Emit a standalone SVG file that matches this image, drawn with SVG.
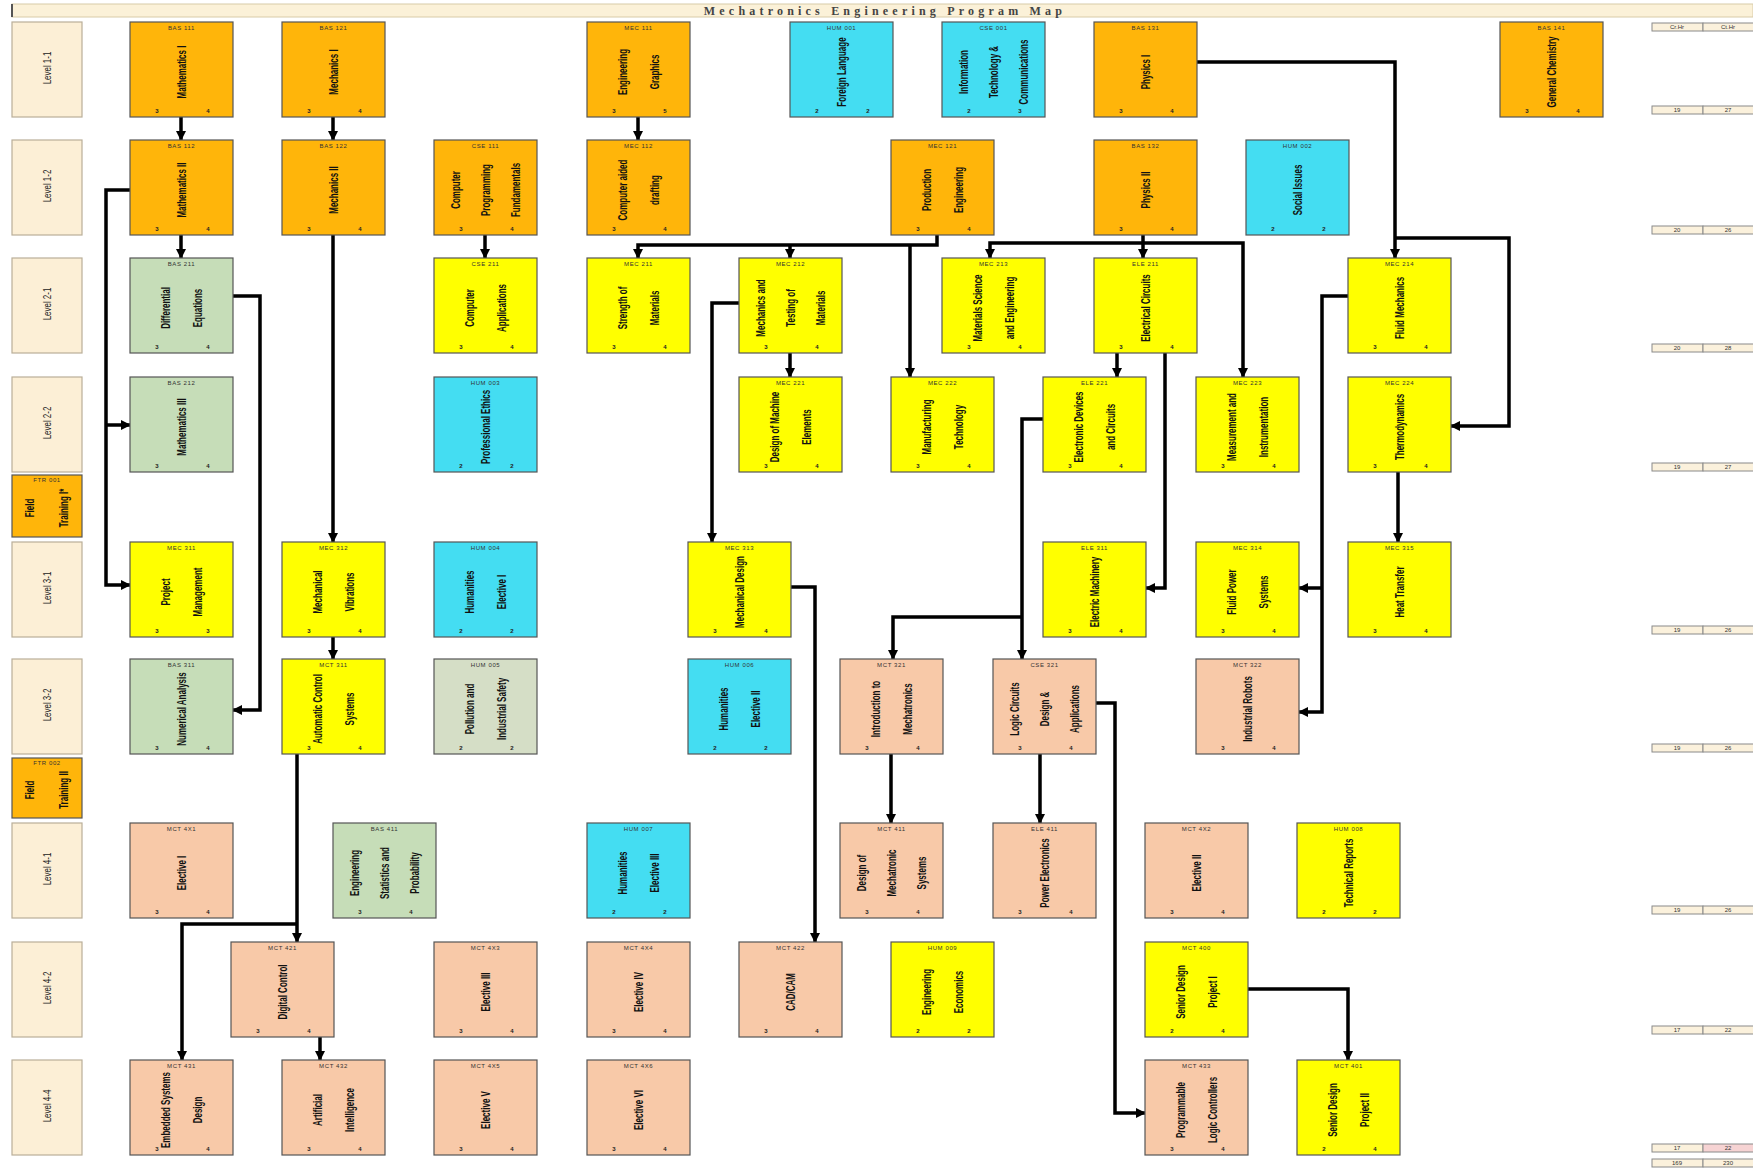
<svg xmlns="http://www.w3.org/2000/svg" width="1753" height="1172" viewBox="0 0 1753 1172">
<defs>
<marker id="ah" markerUnits="userSpaceOnUse" markerWidth="10" markerHeight="10" viewBox="0 0 10 10" refX="9" refY="5" orient="auto"><path d="M0,0 L10,5 L0,10 z" fill="#000"/></marker>
</defs>
<style>
.nd rect{stroke:#555;stroke-width:1.2}
.or rect{fill:#FFB50A}.ye rect{fill:#FFFF00}.cy rect{fill:#44DDF2}.gr rect{fill:#C6DDB8}.g2 rect{fill:#D5DEC6}.sa rect{fill:#F8C9A8}
.lv rect{fill:#FCEFD6;stroke:#B9AE98;stroke-width:1.2}
.lb{font-family:"Liberation Sans",Arial,sans-serif;font-weight:bold;font-size:12.5px;fill:#111;text-anchor:middle}
.ll{font-family:"Liberation Sans",Arial,sans-serif;font-size:11px;fill:#222;text-anchor:middle}
.cd{font-family:"Liberation Sans",Arial,sans-serif;font-size:6px;fill:#333;text-anchor:middle;letter-spacing:0.6px}
.mk{font-family:"Liberation Sans",Arial,sans-serif;font-size:6px;font-weight:bold;fill:#222;text-anchor:middle}
.tb rect{fill:#FBF1DC;stroke:#8a8a8a;stroke-width:1}
.tt{font-family:"Liberation Sans",Arial,sans-serif;font-size:6px;fill:#333;text-anchor:middle}
#conn path{fill:none;stroke:#000;stroke-width:3.5;marker-end:url(#ah)}
</style>
<rect width="1753" height="1172" fill="#fff"/>
<g id="title">
<rect x="12" y="4" width="1741" height="13" fill="#FBF1D8" stroke="#D8CBA8"/>
<line x1="12" y1="4" x2="12" y2="17" stroke="#555" stroke-width="2"/>
<text x="885" y="15" font-family="Liberation Serif, serif" font-weight="bold" font-size="12" letter-spacing="4.2" text-anchor="middle" fill="#444">Mechatronics Engineering  Program Map</text>
</g>
<g id="levels">
<g id="lv1" class="lv"><rect x="12" y="22" width="70" height="95"/><text class="ll" transform="translate(47,68) rotate(-90) scale(0.72,1)" dy="4">Level 1-1</text></g>
<g id="lv2" class="lv"><rect x="12" y="140" width="70" height="95"/><text class="ll" transform="translate(47,186) rotate(-90) scale(0.72,1)" dy="4">Level 1-2</text></g>
<g id="lv3" class="lv"><rect x="12" y="258" width="70" height="95"/><text class="ll" transform="translate(47,304) rotate(-90) scale(0.72,1)" dy="4">Level 2-1</text></g>
<g id="lv4" class="lv"><rect x="12" y="377" width="70" height="95"/><text class="ll" transform="translate(47,423) rotate(-90) scale(0.72,1)" dy="4">Level 2-2</text></g>
<g id="ft1" class="nd or"><rect x="12" y="475" width="70" height="62"/><text class="cd" x="47" y="482">FTR 001</text><text class="lb" transform="translate(47,508) rotate(-90) scale(0.64,1)"><tspan x="0" dy="-13">Field</tspan><tspan x="0" dy="34">Training I*</tspan></text></g>
<g id="lv5" class="lv"><rect x="12" y="542" width="70" height="95"/><text class="ll" transform="translate(47,588) rotate(-90) scale(0.72,1)" dy="4">Level 3-1</text></g>
<g id="lv6" class="lv"><rect x="12" y="659" width="70" height="95"/><text class="ll" transform="translate(47,705) rotate(-90) scale(0.72,1)" dy="4">Level 3-2</text></g>
<g id="ft2" class="nd or"><rect x="12" y="758" width="70" height="60"/><text class="cd" x="47" y="765">FTR 002</text><text class="lb" transform="translate(47,790) rotate(-90) scale(0.64,1)"><tspan x="0" dy="-13">Field</tspan><tspan x="0" dy="34">Training II</tspan></text></g>
<g id="lv7" class="lv"><rect x="12" y="823" width="70" height="95"/><text class="ll" transform="translate(47,869) rotate(-90) scale(0.72,1)" dy="4">Level 4-1</text></g>
<g id="lv8" class="lv"><rect x="12" y="942" width="70" height="95"/><text class="ll" transform="translate(47,988) rotate(-90) scale(0.72,1)" dy="4">Level 4-2</text></g>
<g id="lv9" class="lv"><rect x="12" y="1060" width="70" height="95"/><text class="ll" transform="translate(47,1106) rotate(-90) scale(0.72,1)" dy="4">Level 4-4</text></g>
</g>
<g id="conn">
<path d="M181,117 V140"/>
<path d="M333,117 V140"/>
<path d="M638,117 V140"/>
<path d="M181,235 V258"/>
<path d="M485,235 V258"/>
<path d="M333,235 V542"/>
<path d="M130,190 H106 V585 H130"/>
<path d="M106,425 H130"/>
<path d="M233,296 H260 V710 H233"/>
<path d="M937,235 V245 H638 V258"/>
<path d="M790,245 V258"/>
<path d="M910,245 V377"/>
<path d="M1143,235 V258"/>
<path d="M1143,243 H990 V258"/>
<path d="M1143,243 H1243 V377"/>
<path d="M1117,353 V377"/>
<path d="M1165,353 V588 H1146"/>
<path d="M1197,62 H1395 V258"/>
<path d="M1395,238 H1509 V426 H1451"/>
<path d="M1398,472 V542"/>
<path d="M1348,296 H1322 V712 H1299"/>
<path d="M1322,588 H1299"/>
<path d="M739,303 H712 V542"/>
<path d="M790,353 V377"/>
<path d="M791,587 H815 V942"/>
<path d="M1043,419 H1022 V659"/>
<path d="M1022,617 H893 V659"/>
<path d="M891,754 V823"/>
<path d="M1040,754 V823"/>
<path d="M1096,703 H1115 V1113 H1145"/>
<path d="M297,754 V942"/>
<path d="M297,924 H182 V1060"/>
<path d="M320,1037 V1060"/>
<path d="M1248,989 H1348 V1060"/>
<path d="M333,637 V659"/>
</g>
<g id="nodes">
<g id="n01" class="nd or"><rect x="130" y="22" width="103" height="95"/><text class="cd" x="181.5" y="30">BAS 111</text><text class="lb" transform="translate(181.5,72) rotate(-90) scale(0.64,1)"><tspan x="0" dy="4.5">Mathematics I</tspan></text><text class="mk" x="157" y="113">3</text><text class="mk" x="208" y="113">4</text></g>
<g id="n02" class="nd or"><rect x="282" y="22" width="103" height="95"/><text class="cd" x="333.5" y="30">BAS 121</text><text class="lb" transform="translate(333.5,72) rotate(-90) scale(0.64,1)"><tspan x="0" dy="4.5">Mechanics I</tspan></text><text class="mk" x="309" y="113">3</text><text class="mk" x="360" y="113">4</text></g>
<g id="n03" class="nd or"><rect x="587" y="22" width="103" height="95"/><text class="cd" x="638.5" y="30">MEC 111</text><text class="lb" transform="translate(638.5,72) rotate(-90) scale(0.64,1)"><tspan x="0" dy="-12">Engineering</tspan><tspan x="0" dy="33">Graphics</tspan></text><text class="mk" x="614" y="113">3</text><text class="mk" x="665" y="113">5</text></g>
<g id="n04" class="nd cy"><rect x="790" y="22" width="103" height="95"/><text class="cd" x="841.5" y="30">HUM 001</text><text class="lb" transform="translate(841.5,72) rotate(-90) scale(0.64,1)"><tspan x="0" dy="4.5">Foreign Language</tspan></text><text class="mk" x="817" y="113">2</text><text class="mk" x="868" y="113">2</text></g>
<g id="n05" class="nd cy"><rect x="942" y="22" width="103" height="95"/><text class="cd" x="993.5" y="30">CSE 001</text><text class="lb" transform="translate(993.5,72) rotate(-90) scale(0.64,1)"><tspan x="0" dy="-25.5">Information</tspan><tspan x="0" dy="30">Technology &amp;</tspan><tspan x="0" dy="30">Communications</tspan></text><text class="mk" x="969" y="113">2</text><text class="mk" x="1020" y="113">3</text></g>
<g id="n06" class="nd or"><rect x="1094" y="22" width="103" height="95"/><text class="cd" x="1145.5" y="30">BAS 131</text><text class="lb" transform="translate(1145.5,72) rotate(-90) scale(0.64,1)"><tspan x="0" dy="4.5">Physics I</tspan></text><text class="mk" x="1121" y="113">3</text><text class="mk" x="1172" y="113">4</text></g>
<g id="n07" class="nd or"><rect x="1500" y="22" width="103" height="95"/><text class="cd" x="1551.5" y="30">BAS 141</text><text class="lb" transform="translate(1551.5,72) rotate(-90) scale(0.64,1)"><tspan x="0" dy="4.5">General Chemistry</tspan></text><text class="mk" x="1527" y="113">3</text><text class="mk" x="1578" y="113">4</text></g>

<g id="n08" class="nd or"><rect x="130" y="140" width="103" height="95"/><text class="cd" x="181.5" y="148">BAS 112</text><text class="lb" transform="translate(181.5,190) rotate(-90) scale(0.64,1)"><tspan x="0" dy="4.5">Mathematics II</tspan></text><text class="mk" x="157" y="231">3</text><text class="mk" x="208" y="231">4</text></g>
<g id="n09" class="nd or"><rect x="282" y="140" width="103" height="95"/><text class="cd" x="333.5" y="148">BAS 122</text><text class="lb" transform="translate(333.5,190) rotate(-90) scale(0.64,1)"><tspan x="0" dy="4.5">Mechanics II</tspan></text><text class="mk" x="309" y="231">3</text><text class="mk" x="360" y="231">4</text></g>
<g id="n10" class="nd or"><rect x="434" y="140" width="103" height="95"/><text class="cd" x="485.5" y="148">CSE 111</text><text class="lb" transform="translate(485.5,190) rotate(-90) scale(0.64,1)"><tspan x="0" dy="-25.5">Computer</tspan><tspan x="0" dy="30">Programming</tspan><tspan x="0" dy="30">Fundamentals</tspan></text><text class="mk" x="461" y="231">3</text><text class="mk" x="512" y="231">4</text></g>
<g id="n11" class="nd or"><rect x="587" y="140" width="103" height="95"/><text class="cd" x="638.5" y="148">MEC 112</text><text class="lb" transform="translate(638.5,190) rotate(-90) scale(0.64,1)"><tspan x="0" dy="-12">Computer aided</tspan><tspan x="0" dy="33">drafting</tspan></text><text class="mk" x="614" y="231">3</text><text class="mk" x="665" y="231">4</text></g>
<g id="n12" class="nd or"><rect x="891" y="140" width="103" height="95"/><text class="cd" x="942.5" y="148">MEC 121</text><text class="lb" transform="translate(942.5,190) rotate(-90) scale(0.64,1)"><tspan x="0" dy="-12">Production</tspan><tspan x="0" dy="33">Engineering</tspan></text><text class="mk" x="918" y="231">3</text><text class="mk" x="969" y="231">4</text></g>
<g id="n13" class="nd or"><rect x="1094" y="140" width="103" height="95"/><text class="cd" x="1145.5" y="148">BAS 132</text><text class="lb" transform="translate(1145.5,190) rotate(-90) scale(0.64,1)"><tspan x="0" dy="4.5">Physics II</tspan></text><text class="mk" x="1121" y="231">3</text><text class="mk" x="1172" y="231">4</text></g>
<g id="n14" class="nd cy"><rect x="1246" y="140" width="103" height="95"/><text class="cd" x="1297.5" y="148">HUM 002</text><text class="lb" transform="translate(1297.5,190) rotate(-90) scale(0.64,1)"><tspan x="0" dy="4.5">Social Issues</tspan></text><text class="mk" x="1273" y="231">2</text><text class="mk" x="1324" y="231">2</text></g>

<g id="n15" class="nd gr"><rect x="130" y="258" width="103" height="95"/><text class="cd" x="181.5" y="266">BAS 211</text><text class="lb" transform="translate(181.5,308) rotate(-90) scale(0.64,1)"><tspan x="0" dy="-12">Differential</tspan><tspan x="0" dy="33">Equations</tspan></text><text class="mk" x="157" y="349">3</text><text class="mk" x="208" y="349">4</text></g>
<g id="n16" class="nd ye"><rect x="434" y="258" width="103" height="95"/><text class="cd" x="485.5" y="266">CSE 211</text><text class="lb" transform="translate(485.5,308) rotate(-90) scale(0.64,1)"><tspan x="0" dy="-12">Computer</tspan><tspan x="0" dy="33">Applications</tspan></text><text class="mk" x="461" y="349">3</text><text class="mk" x="512" y="349">4</text></g>
<g id="n17" class="nd ye"><rect x="587" y="258" width="103" height="95"/><text class="cd" x="638.5" y="266">MEC 211</text><text class="lb" transform="translate(638.5,308) rotate(-90) scale(0.64,1)"><tspan x="0" dy="-12">Strength of</tspan><tspan x="0" dy="33">Materials</tspan></text><text class="mk" x="614" y="349">3</text><text class="mk" x="665" y="349">4</text></g>
<g id="n18" class="nd ye"><rect x="739" y="258" width="103" height="95"/><text class="cd" x="790.5" y="266">MEC 212</text><text class="lb" transform="translate(790.5,308) rotate(-90) scale(0.64,1)"><tspan x="0" dy="-25.5">Mechanics and</tspan><tspan x="0" dy="30">Testing of</tspan><tspan x="0" dy="30">Materials</tspan></text><text class="mk" x="766" y="349">3</text><text class="mk" x="817" y="349">4</text></g>
<g id="n19" class="nd ye"><rect x="942" y="258" width="103" height="95"/><text class="cd" x="993.5" y="266">MEC 213</text><text class="lb" transform="translate(993.5,308) rotate(-90) scale(0.64,1)"><tspan x="0" dy="-12">Materials Science</tspan><tspan x="0" dy="33">and Engineering</tspan></text><text class="mk" x="969" y="349">3</text><text class="mk" x="1020" y="349">4</text></g>
<g id="n20" class="nd ye"><rect x="1094" y="258" width="103" height="95"/><text class="cd" x="1145.5" y="266">ELE 211</text><text class="lb" transform="translate(1145.5,308) rotate(-90) scale(0.64,1)"><tspan x="0" dy="4.5">Electrical Circuits</tspan></text><text class="mk" x="1121" y="349">3</text><text class="mk" x="1172" y="349">4</text></g>
<g id="n21" class="nd ye"><rect x="1348" y="258" width="103" height="95"/><text class="cd" x="1399.5" y="266">MEC 214</text><text class="lb" transform="translate(1399.5,308) rotate(-90) scale(0.64,1)"><tspan x="0" dy="4.5">Fluid Mechanics</tspan></text><text class="mk" x="1375" y="349">3</text><text class="mk" x="1426" y="349">4</text></g>

<g id="n22" class="nd gr"><rect x="130" y="377" width="103" height="95"/><text class="cd" x="181.5" y="385">BAS 212</text><text class="lb" transform="translate(181.5,427) rotate(-90) scale(0.64,1)"><tspan x="0" dy="4.5">Mathematics III</tspan></text><text class="mk" x="157" y="468">3</text><text class="mk" x="208" y="468">4</text></g>
<g id="n23" class="nd cy"><rect x="434" y="377" width="103" height="95"/><text class="cd" x="485.5" y="385">HUM 003</text><text class="lb" transform="translate(485.5,427) rotate(-90) scale(0.64,1)"><tspan x="0" dy="4.5">Professional Ethics</tspan></text><text class="mk" x="461" y="468">2</text><text class="mk" x="512" y="468">2</text></g>
<g id="n24" class="nd ye"><rect x="739" y="377" width="103" height="95"/><text class="cd" x="790.5" y="385">MEC 221</text><text class="lb" transform="translate(790.5,427) rotate(-90) scale(0.64,1)"><tspan x="0" dy="-12">Design of Machine</tspan><tspan x="0" dy="33">Elements</tspan></text><text class="mk" x="766" y="468">3</text><text class="mk" x="817" y="468">4</text></g>
<g id="n25" class="nd ye"><rect x="891" y="377" width="103" height="95"/><text class="cd" x="942.5" y="385">MEC 222</text><text class="lb" transform="translate(942.5,427) rotate(-90) scale(0.64,1)"><tspan x="0" dy="-12">Manufacturing</tspan><tspan x="0" dy="33">Technology</tspan></text><text class="mk" x="918" y="468">3</text><text class="mk" x="969" y="468">4</text></g>
<g id="n26" class="nd ye"><rect x="1043" y="377" width="103" height="95"/><text class="cd" x="1094.5" y="385">ELE 221</text><text class="lb" transform="translate(1094.5,427) rotate(-90) scale(0.64,1)"><tspan x="0" dy="-12">Electronic Devices</tspan><tspan x="0" dy="33">and Circuits</tspan></text><text class="mk" x="1070" y="468">3</text><text class="mk" x="1121" y="468">4</text></g>
<g id="n27" class="nd ye"><rect x="1196" y="377" width="103" height="95"/><text class="cd" x="1247.5" y="385">MEC 223</text><text class="lb" transform="translate(1247.5,427) rotate(-90) scale(0.64,1)"><tspan x="0" dy="-12">Measurement and</tspan><tspan x="0" dy="33">Instrumentation</tspan></text><text class="mk" x="1223" y="468">3</text><text class="mk" x="1274" y="468">4</text></g>
<g id="n28" class="nd ye"><rect x="1348" y="377" width="103" height="95"/><text class="cd" x="1399.5" y="385">MEC 224</text><text class="lb" transform="translate(1399.5,427) rotate(-90) scale(0.64,1)"><tspan x="0" dy="4.5">Thermodynamics</tspan></text><text class="mk" x="1375" y="468">3</text><text class="mk" x="1426" y="468">4</text></g>

<g id="n29" class="nd ye"><rect x="130" y="542" width="103" height="95"/><text class="cd" x="181.5" y="550">MEC 311</text><text class="lb" transform="translate(181.5,592) rotate(-90) scale(0.64,1)"><tspan x="0" dy="-12">Project</tspan><tspan x="0" dy="33">Management</tspan></text><text class="mk" x="157" y="633">3</text><text class="mk" x="208" y="633">3</text></g>
<g id="n30" class="nd ye"><rect x="282" y="542" width="103" height="95"/><text class="cd" x="333.5" y="550">MEC 312</text><text class="lb" transform="translate(333.5,592) rotate(-90) scale(0.64,1)"><tspan x="0" dy="-12">Mechanical</tspan><tspan x="0" dy="33">Vibrations</tspan></text><text class="mk" x="309" y="633">3</text><text class="mk" x="360" y="633">4</text></g>
<g id="n31" class="nd cy"><rect x="434" y="542" width="103" height="95"/><text class="cd" x="485.5" y="550">HUM 004</text><text class="lb" transform="translate(485.5,592) rotate(-90) scale(0.64,1)"><tspan x="0" dy="-12">Humanities</tspan><tspan x="0" dy="33">Elective I</tspan></text><text class="mk" x="461" y="633">2</text><text class="mk" x="512" y="633">2</text></g>
<g id="n32" class="nd ye"><rect x="688" y="542" width="103" height="95"/><text class="cd" x="739.5" y="550">MEC 313</text><text class="lb" transform="translate(739.5,592) rotate(-90) scale(0.64,1)"><tspan x="0" dy="4.5">Mechanical Design</tspan></text><text class="mk" x="715" y="633">3</text><text class="mk" x="766" y="633">4</text></g>
<g id="n33" class="nd ye"><rect x="1043" y="542" width="103" height="95"/><text class="cd" x="1094.5" y="550">ELE 311</text><text class="lb" transform="translate(1094.5,592) rotate(-90) scale(0.64,1)"><tspan x="0" dy="4.5">Electric Machinery</tspan></text><text class="mk" x="1070" y="633">3</text><text class="mk" x="1121" y="633">4</text></g>
<g id="n34" class="nd ye"><rect x="1196" y="542" width="103" height="95"/><text class="cd" x="1247.5" y="550">MEC 314</text><text class="lb" transform="translate(1247.5,592) rotate(-90) scale(0.64,1)"><tspan x="0" dy="-12">Fluid Power</tspan><tspan x="0" dy="33">Systems</tspan></text><text class="mk" x="1223" y="633">3</text><text class="mk" x="1274" y="633">4</text></g>
<g id="n35" class="nd ye"><rect x="1348" y="542" width="103" height="95"/><text class="cd" x="1399.5" y="550">MEC 315</text><text class="lb" transform="translate(1399.5,592) rotate(-90) scale(0.64,1)"><tspan x="0" dy="4.5">Heat Transfer</tspan></text><text class="mk" x="1375" y="633">3</text><text class="mk" x="1426" y="633">4</text></g>

<g id="n36" class="nd gr"><rect x="130" y="659" width="103" height="95"/><text class="cd" x="181.5" y="667">BAS 311</text><text class="lb" transform="translate(181.5,709) rotate(-90) scale(0.64,1)"><tspan x="0" dy="4.5">Numerical Analysis</tspan></text><text class="mk" x="157" y="750">3</text><text class="mk" x="208" y="750">4</text></g>
<g id="n37" class="nd ye"><rect x="282" y="659" width="103" height="95"/><text class="cd" x="333.5" y="667">MCT 311</text><text class="lb" transform="translate(333.5,709) rotate(-90) scale(0.64,1)"><tspan x="0" dy="-12">Automatic Control</tspan><tspan x="0" dy="33">Systems</tspan></text><text class="mk" x="309" y="750">3</text><text class="mk" x="360" y="750">4</text></g>
<g id="n38" class="nd g2"><rect x="434" y="659" width="103" height="95"/><text class="cd" x="485.5" y="667">HUM 005</text><text class="lb" transform="translate(485.5,709) rotate(-90) scale(0.64,1)"><tspan x="0" dy="-12">Pollution and</tspan><tspan x="0" dy="33">Industrial Safety</tspan></text><text class="mk" x="461" y="750">2</text><text class="mk" x="512" y="750">2</text></g>
<g id="n39" class="nd cy"><rect x="688" y="659" width="103" height="95"/><text class="cd" x="739.5" y="667">HUM 006</text><text class="lb" transform="translate(739.5,709) rotate(-90) scale(0.64,1)"><tspan x="0" dy="-12">Humanities</tspan><tspan x="0" dy="33">Elective II</tspan></text><text class="mk" x="715" y="750">2</text><text class="mk" x="766" y="750">2</text></g>
<g id="n40" class="nd sa"><rect x="840" y="659" width="103" height="95"/><text class="cd" x="891.5" y="667">MCT 321</text><text class="lb" transform="translate(891.5,709) rotate(-90) scale(0.64,1)"><tspan x="0" dy="-12">Introduction to</tspan><tspan x="0" dy="33">Mechatronics</tspan></text><text class="mk" x="867" y="750">3</text><text class="mk" x="918" y="750">4</text></g>
<g id="n41" class="nd sa"><rect x="993" y="659" width="103" height="95"/><text class="cd" x="1044.5" y="667">CSE 321</text><text class="lb" transform="translate(1044.5,709) rotate(-90) scale(0.64,1)"><tspan x="0" dy="-25.5">Logic Circuits</tspan><tspan x="0" dy="30">Design &amp;</tspan><tspan x="0" dy="30">Applications</tspan></text><text class="mk" x="1020" y="750">3</text><text class="mk" x="1071" y="750">4</text></g>
<g id="n42" class="nd sa"><rect x="1196" y="659" width="103" height="95"/><text class="cd" x="1247.5" y="667">MCT 322</text><text class="lb" transform="translate(1247.5,709) rotate(-90) scale(0.64,1)"><tspan x="0" dy="4.5">Industrial Robots</tspan></text><text class="mk" x="1223" y="750">3</text><text class="mk" x="1274" y="750">4</text></g>

<g id="n43" class="nd sa"><rect x="130" y="823" width="103" height="95"/><text class="cd" x="181.5" y="831">MCT 4X1</text><text class="lb" transform="translate(181.5,873) rotate(-90) scale(0.64,1)"><tspan x="0" dy="4.5">Elective I</tspan></text><text class="mk" x="157" y="914">3</text><text class="mk" x="208" y="914">4</text></g>
<g id="n44" class="nd gr"><rect x="333" y="823" width="103" height="95"/><text class="cd" x="384.5" y="831">BAS 411</text><text class="lb" transform="translate(384.5,873) rotate(-90) scale(0.64,1)"><tspan x="0" dy="-25.5">Engineering</tspan><tspan x="0" dy="30">Statistics and</tspan><tspan x="0" dy="30">Probability</tspan></text><text class="mk" x="360" y="914">3</text><text class="mk" x="411" y="914">4</text></g>
<g id="n45" class="nd cy"><rect x="587" y="823" width="103" height="95"/><text class="cd" x="638.5" y="831">HUM 007</text><text class="lb" transform="translate(638.5,873) rotate(-90) scale(0.64,1)"><tspan x="0" dy="-12">Humanities</tspan><tspan x="0" dy="33">Elective III</tspan></text><text class="mk" x="614" y="914">2</text><text class="mk" x="665" y="914">2</text></g>
<g id="n46" class="nd sa"><rect x="840" y="823" width="103" height="95"/><text class="cd" x="891.5" y="831">MCT 411</text><text class="lb" transform="translate(891.5,873) rotate(-90) scale(0.64,1)"><tspan x="0" dy="-25.5">Design of</tspan><tspan x="0" dy="30">Mechatronic</tspan><tspan x="0" dy="30">Systems</tspan></text><text class="mk" x="867" y="914">3</text><text class="mk" x="918" y="914">4</text></g>
<g id="n47" class="nd sa"><rect x="993" y="823" width="103" height="95"/><text class="cd" x="1044.5" y="831">ELE 411</text><text class="lb" transform="translate(1044.5,873) rotate(-90) scale(0.64,1)"><tspan x="0" dy="4.5">Power Electronics</tspan></text><text class="mk" x="1020" y="914">3</text><text class="mk" x="1071" y="914">4</text></g>
<g id="n48" class="nd sa"><rect x="1145" y="823" width="103" height="95"/><text class="cd" x="1196.5" y="831">MCT 4X2</text><text class="lb" transform="translate(1196.5,873) rotate(-90) scale(0.64,1)"><tspan x="0" dy="4.5">Elective II</tspan></text><text class="mk" x="1172" y="914">3</text><text class="mk" x="1223" y="914">4</text></g>
<g id="n49" class="nd ye"><rect x="1297" y="823" width="103" height="95"/><text class="cd" x="1348.5" y="831">HUM 008</text><text class="lb" transform="translate(1348.5,873) rotate(-90) scale(0.64,1)"><tspan x="0" dy="4.5">Technical Reports</tspan></text><text class="mk" x="1324" y="914">2</text><text class="mk" x="1375" y="914">2</text></g>

<g id="n50" class="nd sa"><rect x="231" y="942" width="103" height="95"/><text class="cd" x="282.5" y="950">MCT 421</text><text class="lb" transform="translate(282.5,992) rotate(-90) scale(0.64,1)"><tspan x="0" dy="4.5">Digital Control</tspan></text><text class="mk" x="258" y="1033">3</text><text class="mk" x="309" y="1033">4</text></g>
<g id="n51" class="nd sa"><rect x="434" y="942" width="103" height="95"/><text class="cd" x="485.5" y="950">MCT 4X3</text><text class="lb" transform="translate(485.5,992) rotate(-90) scale(0.64,1)"><tspan x="0" dy="4.5">Elective III</tspan></text><text class="mk" x="461" y="1033">3</text><text class="mk" x="512" y="1033">4</text></g>
<g id="n52" class="nd sa"><rect x="587" y="942" width="103" height="95"/><text class="cd" x="638.5" y="950">MCT 4X4</text><text class="lb" transform="translate(638.5,992) rotate(-90) scale(0.64,1)"><tspan x="0" dy="4.5">Elective IV</tspan></text><text class="mk" x="614" y="1033">3</text><text class="mk" x="665" y="1033">4</text></g>
<g id="n53" class="nd sa"><rect x="739" y="942" width="103" height="95"/><text class="cd" x="790.5" y="950">MCT 422</text><text class="lb" transform="translate(790.5,992) rotate(-90) scale(0.64,1)"><tspan x="0" dy="4.5">CAD/CAM</tspan></text><text class="mk" x="766" y="1033">3</text><text class="mk" x="817" y="1033">4</text></g>
<g id="n54" class="nd ye"><rect x="891" y="942" width="103" height="95"/><text class="cd" x="942.5" y="950">HUM 009</text><text class="lb" transform="translate(942.5,992) rotate(-90) scale(0.64,1)"><tspan x="0" dy="-12">Engineering</tspan><tspan x="0" dy="33">Economics</tspan></text><text class="mk" x="918" y="1033">2</text><text class="mk" x="969" y="1033">2</text></g>
<g id="n55" class="nd ye"><rect x="1145" y="942" width="103" height="95"/><text class="cd" x="1196.5" y="950">MCT 400</text><text class="lb" transform="translate(1196.5,992) rotate(-90) scale(0.64,1)"><tspan x="0" dy="-12">Senior Design</tspan><tspan x="0" dy="33">Project I</tspan></text><text class="mk" x="1172" y="1033">2</text><text class="mk" x="1223" y="1033">4</text></g>

<g id="n56" class="nd sa"><rect x="130" y="1060" width="103" height="95"/><text class="cd" x="181.5" y="1068">MCT 431</text><text class="lb" transform="translate(181.5,1110) rotate(-90) scale(0.64,1)"><tspan x="0" dy="-12">Embedded Systems</tspan><tspan x="0" dy="33">Design</tspan></text><text class="mk" x="157" y="1151">3</text><text class="mk" x="208" y="1151">4</text></g>
<g id="n57" class="nd sa"><rect x="282" y="1060" width="103" height="95"/><text class="cd" x="333.5" y="1068">MCT 432</text><text class="lb" transform="translate(333.5,1110) rotate(-90) scale(0.64,1)"><tspan x="0" dy="-12">Artificial</tspan><tspan x="0" dy="33">Intelligence</tspan></text><text class="mk" x="309" y="1151">3</text><text class="mk" x="360" y="1151">4</text></g>
<g id="n58" class="nd sa"><rect x="434" y="1060" width="103" height="95"/><text class="cd" x="485.5" y="1068">MCT 4X5</text><text class="lb" transform="translate(485.5,1110) rotate(-90) scale(0.64,1)"><tspan x="0" dy="4.5">Elective V</tspan></text><text class="mk" x="461" y="1151">3</text><text class="mk" x="512" y="1151">4</text></g>
<g id="n59" class="nd sa"><rect x="587" y="1060" width="103" height="95"/><text class="cd" x="638.5" y="1068">MCT 4X6</text><text class="lb" transform="translate(638.5,1110) rotate(-90) scale(0.64,1)"><tspan x="0" dy="4.5">Elective VI</tspan></text><text class="mk" x="614" y="1151">3</text><text class="mk" x="665" y="1151">4</text></g>
<g id="n60" class="nd sa"><rect x="1145" y="1060" width="103" height="95"/><text class="cd" x="1196.5" y="1068">MCT 433</text><text class="lb" transform="translate(1196.5,1110) rotate(-90) scale(0.64,1)"><tspan x="0" dy="-12">Programmable</tspan><tspan x="0" dy="33">Logic Controllers</tspan></text><text class="mk" x="1172" y="1151">3</text><text class="mk" x="1223" y="1151">4</text></g>
<g id="n61" class="nd ye"><rect x="1297" y="1060" width="103" height="95"/><text class="cd" x="1348.5" y="1068">MCT 401</text><text class="lb" transform="translate(1348.5,1110) rotate(-90) scale(0.64,1)"><tspan x="0" dy="-12">Senior Design</tspan><tspan x="0" dy="33">Project II</tspan></text><text class="mk" x="1324" y="1151">2</text><text class="mk" x="1375" y="1151">4</text></g>
</g>
<g id="hours" class="tb">
<rect x="1652" y="23" width="51" height="8"/><rect x="1703" y="23" width="52" height="8"/><text class="tt" x="1677" y="29">Cr.Hr</text><text class="tt" x="1728" y="29">Ct.Hr</text>
<rect x="1652" y="106" width="51" height="8"/><rect x="1703" y="106" width="52" height="8"/><text class="tt" x="1677" y="112">19</text><text class="tt" x="1728" y="112">27</text>
<rect x="1652" y="226" width="51" height="8"/><rect x="1703" y="226" width="52" height="8"/><text class="tt" x="1677" y="232">20</text><text class="tt" x="1728" y="232">26</text>
<rect x="1652" y="344" width="51" height="8"/><rect x="1703" y="344" width="52" height="8"/><text class="tt" x="1677" y="350">20</text><text class="tt" x="1728" y="350">28</text>
<rect x="1652" y="463" width="51" height="8"/><rect x="1703" y="463" width="52" height="8"/><text class="tt" x="1677" y="469">19</text><text class="tt" x="1728" y="469">27</text>
<rect x="1652" y="626" width="51" height="8"/><rect x="1703" y="626" width="52" height="8"/><text class="tt" x="1677" y="632">19</text><text class="tt" x="1728" y="632">26</text>
<rect x="1652" y="744" width="51" height="8"/><rect x="1703" y="744" width="52" height="8"/><text class="tt" x="1677" y="750">19</text><text class="tt" x="1728" y="750">26</text>
<rect x="1652" y="906" width="51" height="8"/><rect x="1703" y="906" width="52" height="8"/><text class="tt" x="1677" y="912">19</text><text class="tt" x="1728" y="912">26</text>
<rect x="1652" y="1026" width="51" height="8"/><rect x="1703" y="1026" width="52" height="8"/><text class="tt" x="1677" y="1032">17</text><text class="tt" x="1728" y="1032">22</text>
<rect x="1652" y="1144" width="51" height="8"/><rect x="1703" y="1144" width="52" height="8" style="fill:#F6D3D3"/><text class="tt" x="1677" y="1150">17</text><text class="tt" x="1728" y="1150">22</text>
<rect x="1652" y="1159" width="51" height="8"/><rect x="1703" y="1159" width="52" height="8"/><text class="tt" x="1677" y="1165">169</text><text class="tt" x="1728" y="1165">230</text>
</g>
</svg>
